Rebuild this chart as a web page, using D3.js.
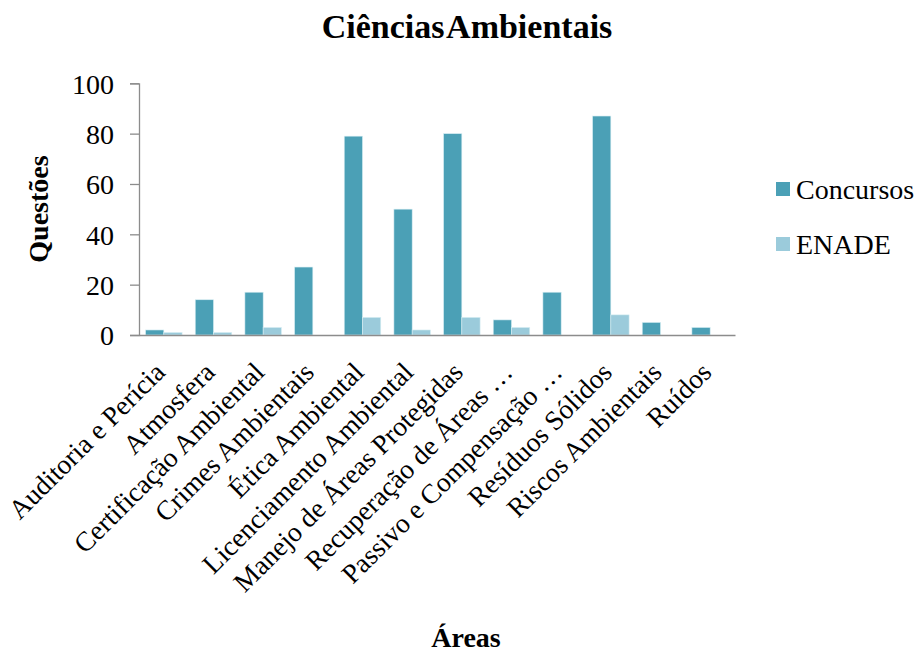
<!DOCTYPE html>
<html><head><meta charset="utf-8">
<script src="https://cdn.jsdelivr.net/npm/d3@7"></script>
<style>body{margin:0;background:#fff;} svg{display:block;}</style>
</head><body>
<svg id="c" width="919" height="652"></svg>
<script>
const categories = ["Auditoria e Perícia","Atmosfera","Certificação Ambiental","Crimes Ambientais","Ética Ambiental","Licenciamento Ambiental","Manejo de Áreas Protegidas","Recuperação de Áreas …","Passivo e Compensação …","Resíduos Sólidos","Riscos Ambientais","Ruídos"];
const seriesNames = ["Concursos","ENADE"];
const concursos = [2,14,17,27,79,50,80,6,17,87,5,3];
const enade = [1,1,3,0,7,2,7,3,0,8,0,0];
const yTicks = [0,20,40,60,80,100];
const colors = ["#4ba0b6","#9bcbdb"];

const FONT = "Liberation Serif";
const svg = d3.select("#c");
const m = {left:139, right:735, top:83.3, bottom:335};
const x = d3.scaleBand().domain(categories).range([m.left, m.right]).paddingInner(0).paddingOuter(0);
const xs = d3.scaleBand().domain(seriesNames).range([0, x.bandwidth()]).paddingInner(0).paddingOuter(0.36);
const y = d3.scaleLinear().domain([0,100]).range([m.bottom, m.top]);

const data = categories.map((c,i)=>({c, v:[concursos[i], enade[i]]}));
const g = svg.append("g");
data.forEach(d=>{
  d.v.forEach((v,j)=>{
    if(v<=0) return;
    g.append("rect")
      .attr("x", x(d.c)+xs(seriesNames[j]))
      .attr("y", y(v))
      .attr("width", xs.bandwidth())
      .attr("height", y(0)-y(v))
      .attr("fill", colors[j])
      .attr("stroke", "#d8eef3").attr("stroke-width", 0.6);
  });
});

// y axis
const ya = svg.append("g").attr("transform",`translate(${m.left},0)`)
  .call(d3.axisLeft(y).tickValues(yTicks).tickSize(9).tickPadding(16));
ya.attr("font-family", FONT);
ya.select(".domain").attr("stroke","#8c8c8c").attr("stroke-width",1.3);
ya.selectAll(".tick line").attr("stroke","#8c8c8c").attr("stroke-width",1.3);
ya.selectAll(".tick text").style("font-family",FONT).style("font-size","28px").attr("fill","#000").attr("dy","0.35em");

// x axis
const xa = svg.append("g").attr("transform",`translate(0,${m.bottom})`)
  .call(d3.axisBottom(x).tickSize(0).tickPadding(0));
xa.attr("font-family", FONT);
xa.select(".domain").attr("stroke","#8c8c8c").attr("stroke-width",1.6);
xa.selectAll(".tick text")
  .style("font-family",FONT).style("font-size","27.5px").attr("fill","#000")
  .attr("text-anchor","end")
  .attr("transform","translate(-4,32) rotate(-45)")
  .attr("dy","0.35em").attr("y",0);

// titles
svg.append("text").attr("x",467).attr("y",38).attr("text-anchor","middle")
  .style("font-family",FONT).style("font-weight","bold").style("font-size","34px")
  .style("word-spacing","-5px").text("Ciências Ambientais");
svg.append("text").attr("transform","translate(48,209) rotate(-90)").attr("text-anchor","middle")
  .style("font-family",FONT).style("font-weight","bold").style("font-size","28px").text("Questões");
svg.append("text").attr("x",466).attr("y",647).attr("text-anchor","middle")
  .style("font-family",FONT).style("font-weight","bold").style("font-size","28px").text("Áreas");

// legend
const lg = svg.append("g");
seriesNames.forEach((s,i)=>{
  const yy = 189 + i*55;
  lg.append("rect").attr("x",776).attr("y",yy-7).attr("width",14).attr("height",14).attr("fill",colors[i]);
  lg.append("text").attr("x",796).attr("y",yy).attr("dy","0.35em")
    .style("font-family",FONT).style("font-size","28px").text(s);
});
</script>
</body></html>
